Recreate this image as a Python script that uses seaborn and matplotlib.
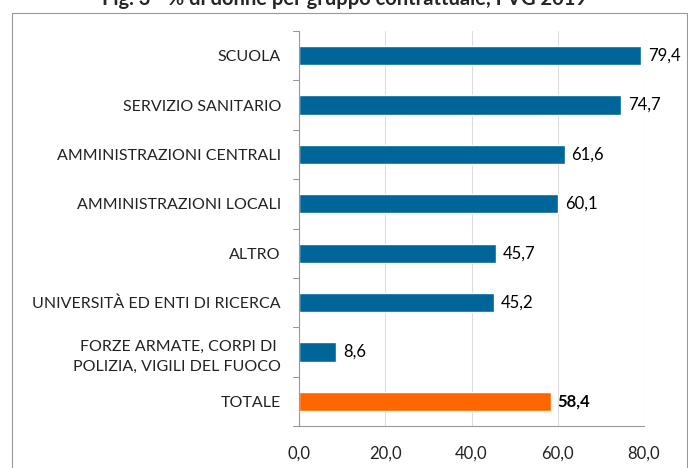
import pandas as pd
import matplotlib.pyplot as plt
import seaborn as sns
from matplotlib.patches import Rectangle

categorie = ["SCUOLA", "SERVIZIO SANITARIO", "AMMINISTRAZIONI CENTRALI",
             "AMMINISTRAZIONI LOCALI", "ALTRO", "UNIVERSITÀ ED ENTI DI RICERCA",
             "FORZE ARMATE, CORPI DI \nPOLIZIA, VIGILI DEL FUOCO", "TOTALE"]
valori = [79.4, 74.7, 61.6, 60.1, 45.7, 45.2, 8.6, 58.4]
tipo = ["gruppo"] * 7 + ["totale"]

df = pd.DataFrame({"categoria": categorie, "valore": valori, "tipo": tipo})

sns.set_style("white")
plt.rcParams['font.family'] = ['Lato', 'DejaVu Sans']

fig = plt.figure(figsize=(6.88, 4.68), dpi=100)
ax = fig.add_axes([0.4346, 0.0897, 0.5015, 0.8441])

sns.barplot(data=df, x="valore", y="categoria", hue="tipo", dodge=False,
            palette={"gruppo": "#006699", "totale": "#FF6600"},
            width=0.39, legend=False, ax=ax, saturation=1)

ax.set_xlim(0, 80)
ax.set_ylim(7.5, -0.5)
ax.set_xticks([0, 20, 40, 60, 80])
ax.set_xticklabels(["0,0", "20,0", "40,0", "60,0", "80,0"], fontsize=12, color="#222222")
ax.set_yticks(range(len(categorie)))
ax.set_yticklabels(categorie, fontsize=11.5, color="#222222", linespacing=1.6)
ax.tick_params(axis="y", length=0, pad=13)
ax.tick_params(axis="x", length=5, color="#999999", pad=9)
ax.set_xlabel("")
ax.set_ylabel("")
ax.grid(axis="x", color="#dddddd", linewidth=0.8)
ax.set_axisbelow(True)

# piccole tacche tra le categorie sull'asse y
for b in [i - 0.5 for i in range(len(categorie) + 1)]:
    ax.plot([-1.3, 0], [b, b], color="#999999", linewidth=0.8, clip_on=False)

for s in ["top", "right"]:
    ax.spines[s].set_visible(False)
for s in ["left", "bottom"]:
    ax.spines[s].set_color("#999999")
    ax.spines[s].set_linewidth(0.8)

for i, v in enumerate(valori):
    testo = f"{v:.1f}".replace(".", ",")
    ax.text(v + 1.6, i, testo, va="center", ha="left", fontsize=12,
            color="black", fontweight="bold" if tipo[i] == "totale" else "normal")

fig.patches.append(Rectangle((12 / 688, -0.1), 675 / 688, 1.1 - 13 / 468,
                             transform=fig.transFigure, fill=False,
                             edgecolor="#999999", linewidth=0.8))

fig.text(0.5, 1 + 1 / 468, "Fig. 3 - % di donne per gruppo contrattuale, FVG 2019",
         ha="center", va="center", fontsize=14.5, fontweight="bold")

fig.savefig("out.png", dpi=100)
